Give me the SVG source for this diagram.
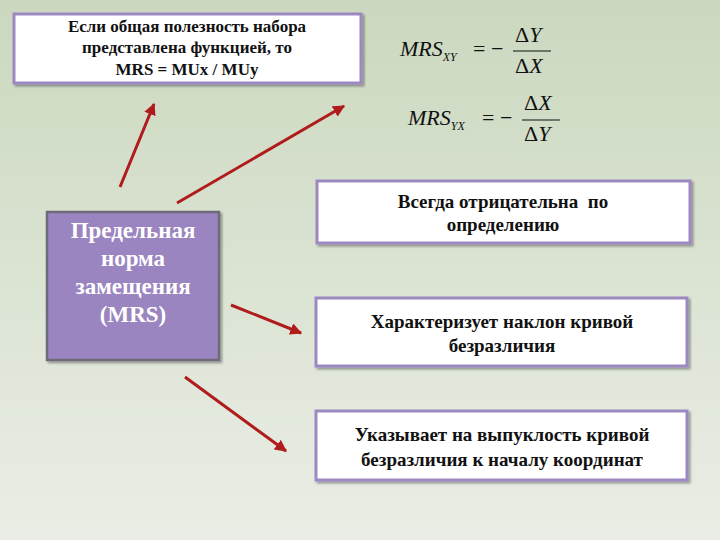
<svg xmlns="http://www.w3.org/2000/svg" width="720" height="540" viewBox="0 0 720 540">
<defs>
<linearGradient id="bg" x1="0" y1="0" x2="0" y2="1"><stop offset="0" stop-color="#cbd8bf"/><stop offset="1" stop-color="#eaeee6"/></linearGradient>
<marker id="ah" viewBox="0 0 10 10" refX="9" refY="5" markerWidth="4" markerHeight="4" orient="auto"><path d="M0,0 L10,5 L0,10 z" fill="#b01c1c"/></marker>
<filter id="sh" x="-5%" y="-5%" width="115%" height="120%"><feDropShadow dx="2" dy="2" stdDeviation="1.2" flood-color="#000" flood-opacity="0.35"/></filter>
</defs>
<style>
.box{fill:#fff;stroke:#9d89c2;stroke-width:3;filter:url(#sh)}
.t{font-family:"Liberation Serif","DejaVu Serif",serif;font-weight:bold;text-anchor:middle;fill:#111}
.m{font-family:"Liberation Serif",serif;font-style:italic;font-size:22px;fill:#111}
.n{font-style:normal}
.c{stroke:#b01c1c;stroke-width:3;fill:none;marker-end:url(#ah)}
</style>
<rect width="720" height="540" fill="url(#bg)"/>
<g id="top">
<rect class="box" x="14" y="14" width="347" height="69"/>
<text class="t" font-size="17" x="187" y="32">Если общая полезность набора</text>
<text class="t" font-size="17" x="187" y="53">представлена функцией, то</text>
<text class="t" font-size="17" x="187" y="75">MRS = MUx / MUy</text>
</g>
<g id="formulas">
<text class="m" x="400" y="56">MRS<tspan font-size="12" dy="5">XY</tspan></text>
<text class="m n" x="473" y="56">= −</text>
<text class="m" x="515" y="42"><tspan class="n">Δ</tspan>Y</text>
<line x1="513" y1="51" x2="551" y2="51" stroke="#111" stroke-width="1.2"/>
<text class="m" x="515" y="73"><tspan class="n">Δ</tspan>X</text>
<text class="m" x="408" y="125">MRS<tspan font-size="12" dy="5">YX</tspan></text>
<text class="m n" x="482" y="125">= −</text>
<text class="m" x="524" y="110"><tspan class="n">Δ</tspan>X</text>
<line x1="522" y1="120" x2="560" y2="120" stroke="#111" stroke-width="1.2"/>
<text class="m" x="524" y="141"><tspan class="n">Δ</tspan>Y</text>
</g>
<g id="main">
<rect x="47" y="212" width="172" height="148" fill="#9a85c0" stroke="#6e6a7a" stroke-width="2.5" filter="url(#sh)"/>
<text class="t" font-size="23" style="fill:#fff" x="133" y="238">Предельная</text>
<text class="t" font-size="23" style="fill:#fff" x="133" y="266">норма</text>
<text class="t" font-size="23" style="fill:#fff" x="133" y="294">замещения</text>
<text class="t" font-size="23" style="fill:#fff" x="133" y="322">(MRS)</text>
</g>
<g id="b1">
<rect class="box" x="317" y="181" width="373" height="62"/>
<text class="t" font-size="19" x="503" y="208" xml:space="preserve">Всегда отрицательна  по</text>
<text class="t" font-size="19" x="503" y="231">определению</text>
</g>
<g id="b2">
<rect class="box" x="316" y="298" width="371" height="68"/>
<text class="t" font-size="19" x="502" y="328">Характеризует наклон кривой</text>
<text class="t" font-size="19" x="502" y="352">безразличия</text>
</g>
<g id="b3">
<rect class="box" x="316" y="411" width="371" height="69"/>
<text class="t" font-size="19" x="502" y="441">Указывает на выпуклость кривой</text>
<text class="t" font-size="19" x="502" y="466">безразличия к началу координат</text>
</g>
<g id="connectors">
<line class="c" x1="120" y1="187" x2="154" y2="104"/>
<line class="c" x1="177" y1="203" x2="344" y2="106"/>
<line class="c" x1="231" y1="305" x2="301" y2="333"/>
<line class="c" x1="185" y1="377" x2="286" y2="451"/>
</g>
</svg>
